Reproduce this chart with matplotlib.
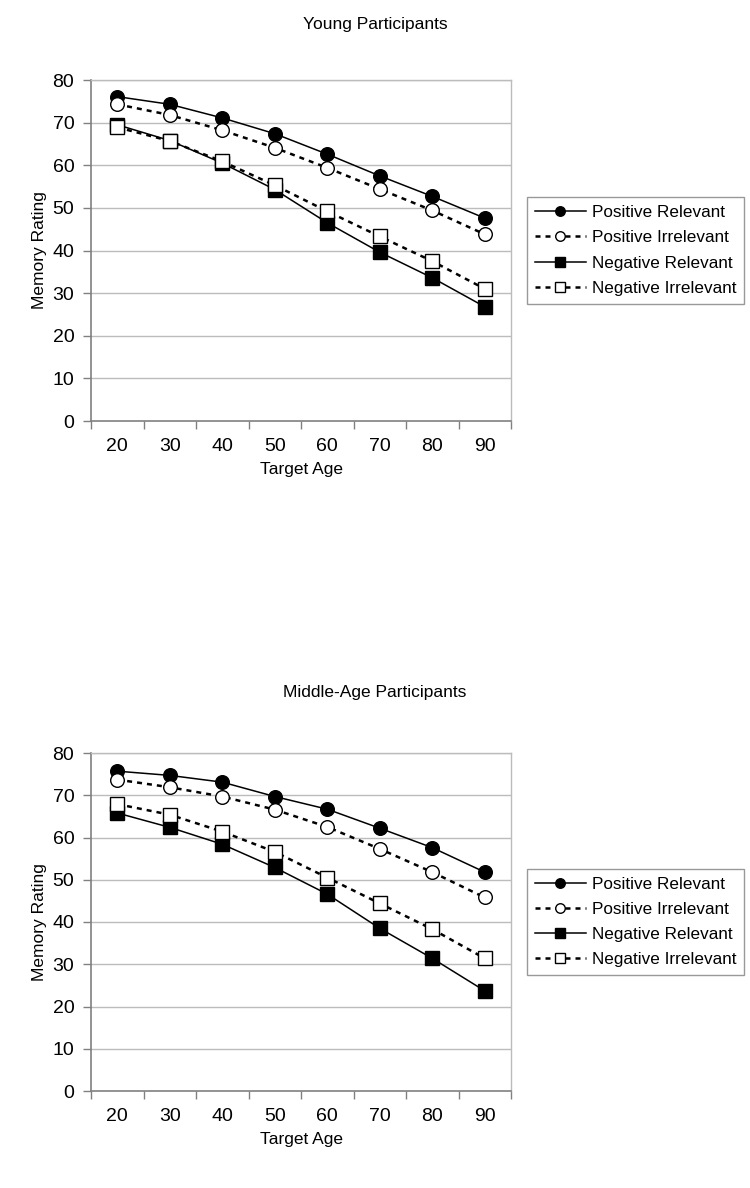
import numpy as np
import matplotlib.pyplot as plt

plt.rcParams['font.family'] = ['Liberation Sans', 'DejaVu Sans']

ages = [20, 30, 40, 50, 60, 70, 80, 90]
labels = ["Positive Relevant", "Positive Irrelevant",
          "Negative Relevant", "Negative Irrelevant"]

# Young participants
young_pos_rel = [76.1, 74.3, 71.1, 67.4, 62.6, 57.5, 52.7, 47.6]
young_pos_irr = [74.3, 71.8, 68.2, 64.1, 59.4, 54.4, 49.4, 43.8]
young_neg_rel = [69.5, 65.8, 60.5, 54.3, 46.5, 39.6, 33.6, 26.8]
young_neg_irr = [68.9, 65.7, 60.9, 55.3, 49.2, 43.3, 37.5, 31.0]

# Middle-age participants
mid_pos_rel = [75.7, 74.7, 73.1, 69.7, 66.7, 62.2, 57.6, 51.8]
mid_pos_irr = [73.7, 71.9, 69.7, 66.6, 62.5, 57.3, 51.8, 45.8]
mid_neg_rel = [65.8, 62.4, 58.4, 52.9, 46.6, 38.5, 31.4, 23.7]
mid_neg_irr = [67.9, 65.4, 61.4, 56.6, 50.5, 44.4, 38.3, 31.4]

styles = [
    dict(marker='o', ls='-', lw=1.1, mfc='black'),
    dict(marker='o', ls=(0, (2, 2)), lw=1.8, mfc='white'),
    dict(marker='s', ls='-', lw=1.1, mfc='black'),
    dict(marker='s', ls=(0, (2, 2)), lw=1.8, mfc='white'),
]

W, H = 750, 1188
fig = plt.figure(figsize=(W / 100, H / 100), dpi=100)

grid_c = '#bcbcbc'
axis_c = '#808080'


def draw(rect, title, title_y, series):
    ax = fig.add_axes(rect)
    x = np.arange(len(ages))
    for vals, lab, st in zip(series, labels, styles):
        ax.plot(x, vals, color='black', marker=st['marker'], ls=st['ls'],
                lw=st['lw'], ms=9.8, mfc=st['mfc'], mec='black', mew=1.0,
                label=lab)
    ax.set_xlim(-0.5, 7.5)
    ax.set_ylim(0, 80)
    ax.set_yticks(range(0, 81, 10))
    for yv in range(10, 81, 10):
        ax.axhline(yv, color=grid_c, lw=1.0, zorder=0)
    ax.set_xticks(np.arange(-0.5, 8, 1))
    ax.set_xticklabels([])
    ax.set_xticks(x, minor=True)
    ax.set_xticklabels([str(a) for a in ages], minor=True)
    ax.tick_params(axis='x', which='major', direction='out', length=6,
                   color=axis_c, width=1)
    ax.tick_params(axis='x', which='minor', length=0, pad=12, labelsize=14)
    ax.tick_params(axis='y', direction='out', length=6, color=axis_c,
                   width=1, pad=6, labelsize=14)
    for s in ['left', 'bottom']:
        ax.spines[s].set_color(axis_c)
        ax.spines[s].set_linewidth(1.2)
    for s in ['top', 'right']:
        ax.spines[s].set_color(grid_c)
        ax.spines[s].set_linewidth(1.0)
    ax.set_xlabel('Target Age', fontsize=12.5, labelpad=5)
    ax.set_ylabel('Memory Rating', fontsize=12.5, labelpad=4)
    fig.text(0.5, title_y, title, ha='center', va='center', fontsize=12.5)
    leg = ax.legend(loc='center left', bbox_to_anchor=(1.038, 0.5),
                    fontsize=12.3, frameon=True, fancybox=False,
                    markerscale=0.7, handlelength=3.0, handletextpad=0.35,
                    labelspacing=0.6, borderpad=0.45, borderaxespad=0)
    leg.get_frame().set_edgecolor(axis_c)
    leg.get_frame().set_linewidth(1.0)
    return ax


draw([91 / W, 1 - 421 / H, 420 / W, 341 / H], 'Young Participants',
     1 - 25 / H, [young_pos_rel, young_pos_irr, young_neg_rel, young_neg_irr])
draw([91 / W, 1 - 1091 / H, 420 / W, 338 / H], 'Middle-Age Participants',
     1 - 693 / H, [mid_pos_rel, mid_pos_irr, mid_neg_rel, mid_neg_irr])

fig.savefig('out.png', dpi=100)
